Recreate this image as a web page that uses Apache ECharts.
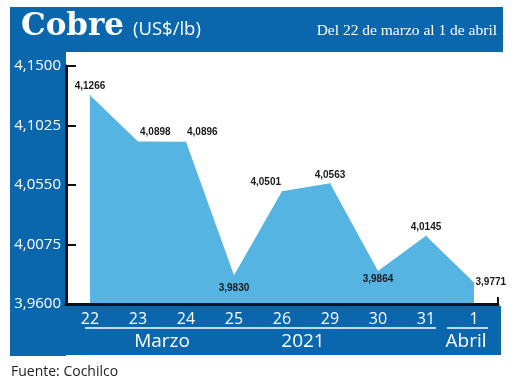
<!DOCTYPE html>
<html>
<head>
<meta charset="utf-8">
<script src="https://cdn.jsdelivr.net/npm/echarts@6/dist/echarts.min.js"></script>
<style>
html,body{margin:0;padding:0;background:#ffffff;}
#chart{width:520px;height:382px;}
</style>
</head>
<body>
<div id="chart"></div>
<script>
// ---- data ----
var categories = ['22', '23', '24', '25', '26', '29', '30', '31', '1'];
var prices = [4.1266, 4.0898, 4.0896, 3.9830, 4.0501, 4.0563, 3.9864, 4.0145, 3.9771];
var yTickLabels = ['3,9600', '4,0075', '4,0550', '4,1025', '4,1500'];
var yMin = 3.96, yMax = 4.15;
var groupLabels = ['Marzo', '2021', 'Abril'];
var titleText = 'Cobre';
var unitText = '(US$/lb)';
var periodText = 'Del 22 de marzo al 1 de abril';
var sourceText = 'Fuente: Cochilco';

// ---- styling ----
var BLUE = '#0b67ad';
var AREA = '#56b4e3';
var labelCfg = [
  {position: 'top', distance: 4},
  {position: 'top', distance: 4, align: 'left', padding: [0, 0, 0, 2]},
  {position: 'top', distance: 4, align: 'left', padding: [0, 0, 0, 1]},
  {position: 'bottom', distance: 8},
  {position: 'top', distance: 3, align: 'right', padding: [0, 1, 0, 0]},
  {position: 'top', distance: 3},
  {position: 'bottom', distance: 3},
  {position: 'top', distance: 3},
  {position: 'right', distance: 1}
];

function fmt(v) { return v.toFixed(4).replace('.', ','); }

var seriesData = prices.map(function (v, i) {
  return {
    value: v,
    label: Object.assign({
      show: true,
      formatter: fmt(v),
      color: '#1a1a1a',
      fontFamily: 'Liberation Sans',
      fontWeight: 'bold',
      fontSize: 10
    }, labelCfg[i])
  };
});

var chart = echarts.init(document.getElementById('chart'), null, {renderer: 'canvas'});
var option = {
  animation: false,
  backgroundColor: '#ffffff',
  grid: {left: 66, right: 22, top: 66, bottom: 78},
  xAxis: [{
    type: 'category',
    data: categories,
    boundaryGap: true,
    z: 5,
    axisLine: {show: true, lineStyle: {color: '#111', width: 3}},
    axisTick: {show: false},
    axisLabel: {color: '#ffffff', fontSize: 16, fontFamily: 'Open Sans', margin: 7},
    splitLine: {show: false}
  }, {
    type: 'value',
    min: 0, max: 1, interval: 1,
    position: 'bottom',
    z: 5,
    axisLine: {show: false},
    axisTick: {show: true, inside: true, length: 7, lineStyle: {color: '#111', width: 2}},
    axisLabel: {show: false},
    splitLine: {show: false}
  }],
  yAxis: [{
    type: 'value',
    min: yMin, max: yMax,
    z: 5,
    axisLine: {show: true, lineStyle: {color: '#111', width: 3}},
    axisTick: {show: false},
    axisLabel: {show: false},
    splitLine: {show: false}
  }, {
    type: 'value',
    min: 0, max: yTickLabels.length - 1, interval: 1,
    position: 'left',
    offset: 0,
    z: 5,
    axisLine: {show: false},
    axisTick: {show: true, inside: true, length: 10, lineStyle: {color: '#111', width: 2}},
    axisLabel: {
      color: '#ffffff', fontSize: 15, fontFamily: 'Open Sans', margin: 5,
      formatter: function (v) { return yTickLabels[v]; }
    },
    splitLine: {show: false}
  }],
  series: [{
    type: 'line',
    xAxisIndex: 0,
    yAxisIndex: 0,
    data: seriesData,
    z: 3,
    showSymbol: true,
    symbol: 'circle',
    symbolSize: 1,
    itemStyle: {color: AREA},
    lineStyle: {width: 0, color: AREA},
    areaStyle: {color: AREA, opacity: 1},
    labelLayout: {hideOverlap: false}
  }],
  graphic: [
    {type: 'rect', z: 1, shape: {x: 10, y: 7, width: 493, height: 45}, style: {fill: BLUE}},
    {type: 'rect', z: 1, shape: {x: 10, y: 52, width: 56, height: 304}, style: {fill: BLUE}},
    {type: 'rect', z: 1, shape: {x: 65, y: 306, width: 436, height: 49}, style: {fill: BLUE}},
    {type: 'text', z: 10, style: {text: titleText, x: 21, y: 27, fill: '#ffffff', fontFamily: 'DejaVu Serif', fontWeight: 'bold', fontSize: 31, verticalAlign: 'middle'}},
    {type: 'text', z: 10, style: {text: unitText, x: 133, y: 30, fill: '#ffffff', fontFamily: 'Open Sans', fontSize: 18.5, verticalAlign: 'middle'}},
    {type: 'text', z: 10, style: {text: periodText, x: 497, y: 31, align: 'right', fill: '#ffffff', fontFamily: 'Liberation Serif', fontSize: 15.5, verticalAlign: 'middle'}},
    {type: 'line', z: 10, shape: {x1: 85, y1: 328, x2: 436, y2: 328}, style: {stroke: '#ffffff', lineWidth: 1.5}},
    {type: 'line', z: 10, shape: {x1: 447, y1: 328, x2: 488, y2: 328}, style: {stroke: '#ffffff', lineWidth: 1.5}},
    {type: 'text', z: 10, style: {text: groupLabels[0], x: 162, y: 342, align: 'center', verticalAlign: 'middle', fill: '#ffffff', fontFamily: 'Open Sans', fontSize: 19}},
    {type: 'text', z: 10, style: {text: groupLabels[1], x: 303, y: 342, align: 'center', verticalAlign: 'middle', fill: '#ffffff', fontFamily: 'Open Sans', fontSize: 19}},
    {type: 'text', z: 10, style: {text: groupLabels[2], x: 466, y: 342, align: 'center', verticalAlign: 'middle', fill: '#ffffff', fontFamily: 'Open Sans', fontSize: 19}},
    {type: 'text', z: 10, style: {text: sourceText, x: 11, y: 372, verticalAlign: 'middle', fill: '#222222', fontFamily: 'Open Sans', fontSize: 14}}
  ]
};
chart.setOption(option);
</script>
</body>
</html>
